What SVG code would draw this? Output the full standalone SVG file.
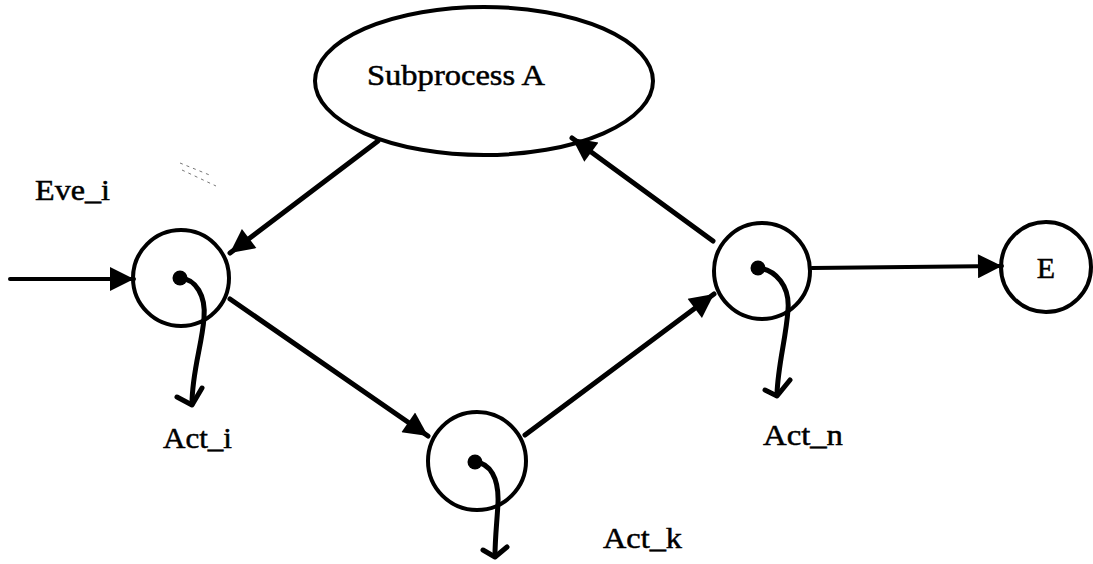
<svg xmlns="http://www.w3.org/2000/svg" width="1093" height="564" viewBox="0 0 1093 564">
  <style>
    .shape { fill: none; stroke: #000; stroke-width: 4; }
    .edge { fill: none; stroke: #000; stroke-width: 5; stroke-linecap: round; }
    .thin { stroke-width: 4; }
    .tail { fill: none; stroke: #000; stroke-width: 5; stroke-linecap: round; stroke-linejoin: round; }
    .dot { fill: #000; }
    .label { font-family: "Liberation Serif", "Times New Roman", serif; font-size: 30px; fill: #000; stroke: #000; stroke-width: 0.5; }
    .smudge { fill: none; stroke: #777; stroke-width: 1; stroke-dasharray: 3 4; }
  </style>
  <defs>
    <marker id="arrow" viewBox="0 0 10 10" refX="10" refY="5" markerWidth="28" markerHeight="24" markerUnits="userSpaceOnUse" orient="auto">
      <path d="M0,0 L10,5 L0,10 z" fill="#000"/>
    </marker>
  </defs>

  <rect width="1093" height="564" fill="#fff"/>

  <!-- faint marks near the top-left -->
  <g id="smudge">
    <path class="smudge" d="M180,163 L212,176"/>
    <path class="smudge" d="M182,170 L216,186"/>
  </g>

  <!-- connectors -->
  <g id="connectors">
    <line class="edge thin" x1="10" y1="279" x2="134" y2="279" marker-end="url(#arrow)"/>
    <line class="edge" x1="378" y1="141" x2="230" y2="253" marker-end="url(#arrow)"/>
    <line class="edge" x1="230" y1="299" x2="428" y2="436" marker-end="url(#arrow)"/>
    <line class="edge" x1="525" y1="435" x2="714" y2="294" marker-end="url(#arrow)"/>
    <line class="edge" x1="713" y1="241" x2="572" y2="138" marker-end="url(#arrow)"/>
    <line class="edge thin" x1="812" y1="268" x2="1002" y2="266" marker-end="url(#arrow)"/>
  </g>

  <!-- subprocess -->
  <g id="subprocess-a">
    <ellipse class="shape" cx="484" cy="81" rx="169" ry="74"/>
    <text class="label" x="367" y="85" textLength="178" lengthAdjust="spacingAndGlyphs">Subprocess A</text>
  </g>

  <!-- event label -->
  <g id="eve-i">
    <text class="label" x="35" y="200" textLength="75" lengthAdjust="spacingAndGlyphs">Eve_i</text>
  </g>

  <!-- state i -->
  <g id="state-i">
    <circle class="shape" cx="181" cy="278" r="48"/>
    <circle class="dot" cx="180" cy="278" r="7.5"/>
    <path class="tail" d="M180,278 C196,279 206,296 204,318 C202,345 192,372 192,404"/>
    <path class="tail" d="M177,397 L192,405 L202,388"/>
    <text class="label" x="163" y="448" textLength="69" lengthAdjust="spacingAndGlyphs">Act_i</text>
  </g>

  <!-- state k -->
  <g id="state-k">
    <circle class="shape" cx="477" cy="461" r="49"/>
    <circle class="dot" cx="475" cy="462" r="7.5"/>
    <path class="tail" d="M475,462 C490,463 499,478 498,503 C497,522 495,538 495,556"/>
    <path class="tail" d="M483,550 L495,557 L507,547"/>
    <text class="label" x="603" y="548" textLength="79" lengthAdjust="spacingAndGlyphs">Act_k</text>
  </g>

  <!-- state n -->
  <g id="state-n">
    <circle class="shape" cx="762" cy="271" r="48"/>
    <circle class="dot" cx="758" cy="268" r="7.5"/>
    <path class="tail" d="M758,268 C776,270 790,286 788,310 C786,338 778,365 777,394"/>
    <path class="tail" d="M765,390 L777,396 L790,380"/>
    <text class="label" x="763" y="445" textLength="80" lengthAdjust="spacingAndGlyphs">Act_n</text>
  </g>

  <!-- end state -->
  <g id="end-e">
    <circle class="shape" cx="1046" cy="267" r="45"/>
    <text class="label" x="1046" y="278" text-anchor="middle">E</text>
  </g>
</svg>
